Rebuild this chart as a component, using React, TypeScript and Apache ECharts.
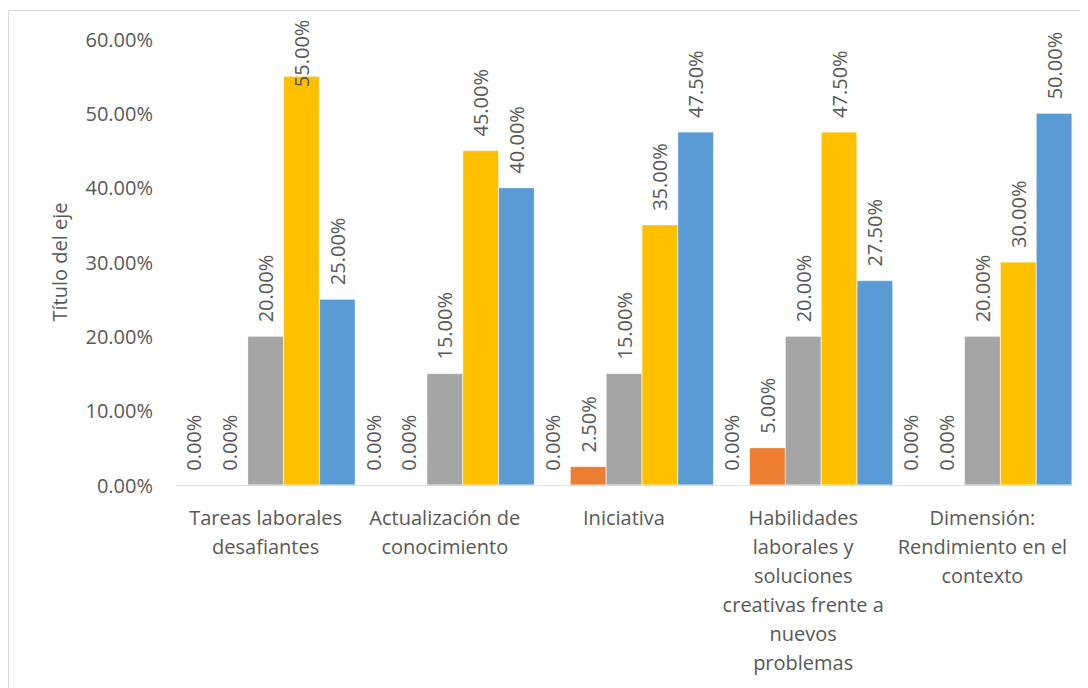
import React, { useEffect, useRef } from "react";
import * as echarts from "echarts";

const categories = [
  "Tareas laborales\ndesafiantes",
  "Actualización de\nconocimiento",
  "Iniciativa",
  "Habilidades\nlaborales y\nsoluciones\ncreativas frente a\nnuevos\nproblemas",
  "Dimensión:\nRendimiento en el\ncontexto",
];

const serie1 = [0, 0, 0, 0, 0];
const serie2 = [0, 0, 0.025, 0.05, 0];
const serie3 = [0.2, 0.15, 0.15, 0.2, 0.2];
const serie4 = [0.55, 0.45, 0.35, 0.475, 0.3];
const serie5 = [0.25, 0.4, 0.475, 0.275, 0.5];

const seriesNames = ["Serie 1", "Serie 2", "Serie 3", "Serie 4", "Serie 5"];
const seriesData = [serie1, serie2, serie3, serie4, serie5];
const colors = ["#4472C4", "#ED7D31", "#A5A5A5", "#FFC000", "#5B9BD5"];

const fmt = (v: number) => (v * 100).toFixed(2) + "%";

export default function App() {
  const ref = useRef<HTMLDivElement>(null);
  useEffect(() => {
    if (!ref.current) return;
    const chart = echarts.init(ref.current, undefined, { renderer: "svg" });
    const font = "'Open Sans', 'Noto Sans', sans-serif";
    chart.setOption({
      animation: false,
      textStyle: { fontFamily: font },
      graphic: [
        {
          type: "rect",
          shape: { x: 0.5, y: 2.5, width: 1200, height: 1000 },
          style: { fill: "none", stroke: "#D9D9D9", lineWidth: 1 },
          silent: true,
        },
      ],
      grid: { left: 168, right: 16, top: 31, bottom: 203 },
      xAxis: {
        type: "category",
        data: categories,
        axisLine: { lineStyle: { color: "#D9D9D9", width: 1 } },
        axisTick: { show: false },
        axisLabel: {
          interval: 0,
          color: "#595959",
          fontSize: 20,
          lineHeight: 29,
          margin: 18,
          fontFamily: font,
        },
      },
      yAxis: {
        type: "value",
        min: 0,
        max: 0.6,
        interval: 0.1,
        name: "Título del eje",
        nameLocation: "middle",
        nameGap: 107,
        nameTextStyle: { color: "#595959", fontSize: 20, fontFamily: font },
        splitLine: { show: false },
        axisLine: { show: false },
        axisTick: { show: false },
        axisLabel: {
          color: "#595959",
          fontSize: 20,
          margin: 23,
          fontFamily: font,
          formatter: (v: number) => fmt(v),
        },
      },
      series: seriesData.map((d, i) => ({
        name: seriesNames[i],
        type: "bar",
        data: d.map((v) =>
          v > 0.52 ? { value: v, label: { distance: -11 } } : v
        ),
        barGap: "0%",
        barCategoryGap: "0%",
        itemStyle: { color: colors[i], borderColor: "rgba(255,255,255,0.6)", borderWidth: 0.5 },
        label: {
          show: true,
          position: "top",
          rotate: 90,
          align: "left",
          verticalAlign: "middle",
          distance: 14,
          color: "#595959",
          fontSize: 20,
          fontFamily: font,
          formatter: (p: any) => fmt(p.value),
        },
      })),
    });
    return () => chart.dispose();
  }, []);
  return <div ref={ref} style={{ width: 1080, height: 680 }} />;
}
